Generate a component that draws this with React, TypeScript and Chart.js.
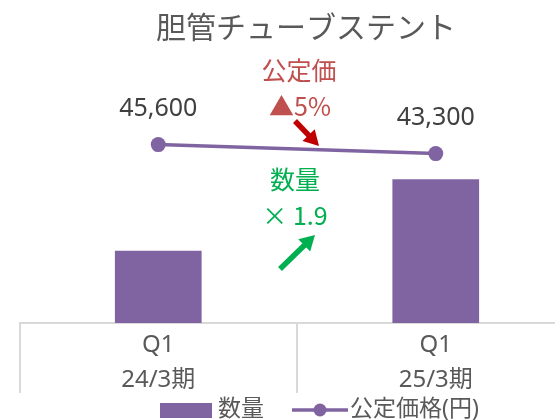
import React, { useEffect, useRef } from 'react';
import { Chart, registerables } from 'chart.js';

Chart.register(...registerables);

// ---- data ----
const TITLE = '胆管チューブステント';
const CATEGORIES = [
  ['Q1', '24/3期'],
  ['Q1', '25/3期'],
];
const QUANTITY_LABEL = '数量';
const PRICE_LABEL = '公定価格(円)';
const QUANTITY = [231, 459];
const PRICE = [45600, 43300];
const QUANTITY_AXIS_MAX = 1000;
const PRICE_AXIS_MAX = 80000;
const PRICE_NOTE = ['公定価', '▲5%'];
const QUANTITY_NOTE = ['数量', '× 1.9'];

// ---- style ----
const PURPLE = '#8064A2';
const GRID = '#d9d9d9';
const TEXT = '#595959';
const LABEL = '#404040';
const RED_TEXT = '#C0504D';
const RED_ARROW = '#C00000';
const GREEN = '#00B050';
const FAMILY = "'Noto Sans', 'Noto Sans CJK JP', sans-serif";
const CJK_FAMILY = "'Noto Sans CJK JP', 'Noto Sans', sans-serif";

function drawArrow(
  ctx: CanvasRenderingContext2D,
  x1: number, y1: number, x2: number, y2: number,
  color: string, shaft: number, headLen: number, headW: number
) {
  const ang = Math.atan2(y2 - y1, x2 - x1);
  const bx = x2 - headLen * Math.cos(ang);
  const by = y2 - headLen * Math.sin(ang);
  ctx.save();
  ctx.strokeStyle = color;
  ctx.lineWidth = shaft;
  ctx.lineCap = 'butt';
  ctx.beginPath();
  ctx.moveTo(x1, y1);
  ctx.lineTo(bx + Math.cos(ang) * 1, by + Math.sin(ang) * 1);
  ctx.stroke();
  const px = -Math.sin(ang) * headW / 2;
  const py = Math.cos(ang) * headW / 2;
  ctx.fillStyle = color;
  ctx.beginPath();
  ctx.moveTo(x2, y2);
  ctx.lineTo(bx + px, by + py);
  ctx.lineTo(bx - px, by - py);
  ctx.closePath();
  ctx.fill();
  ctx.restore();
}

const decorPlugin = {
  id: 'decor',
  beforeDatasetsDraw(chart: any) {
    // category separators below the axis (multi-level axis look)
    const ctx: CanvasRenderingContext2D = chart.ctx;
    const xs = chart.scales.x;
    const n = chart.data.labels.length;
    const step = n > 1 ? xs.getPixelForValue(1) - xs.getPixelForValue(0) : xs.width;
    ctx.save();
    ctx.strokeStyle = GRID;
    ctx.lineWidth = 2;
    ctx.beginPath();
    for (let i = 0; i <= n; i++) {
      const x = Math.round(xs.getPixelForValue(0) - step / 2 + i * step);
      ctx.moveTo(x, xs.top);
      ctx.lineTo(x, xs.top + 70);
    }
    ctx.stroke();
    ctx.restore();
  },
  afterDatasetsDraw(chart: any) {
    const ctx: CanvasRenderingContext2D = chart.ctx;
    const xs = chart.scales.x;
    const mid = (xs.getPixelForValue(0) + xs.getPixelForValue(1)) / 2;

    ctx.save();
    ctx.textBaseline = 'middle';
    ctx.textAlign = 'center';

    // title
    ctx.fillStyle = TEXT;
    ctx.font = `30px ${FAMILY}`;
    ctx.fillText(TITLE, mid + 9, 29);

    // data labels for price line
    const meta = chart.getDatasetMeta(1);
    ctx.fillStyle = LABEL;
    ctx.font = `25px ${FAMILY}`;
    meta.data.forEach((pt: any, i: number) => {
      const v = chart.data.datasets[1].data[i] as number;
      ctx.fillText(v.toLocaleString('en-US'), pt.x, pt.y - 36);
    });

    // annotations
    ctx.font = `25px ${FAMILY}`;
    ctx.fillStyle = RED_TEXT;
    ctx.fillText(PRICE_NOTE[0], mid + 2, 73);
    ctx.font = `25px ${CJK_FAMILY}`;
    ctx.fillText(PRICE_NOTE[1], mid + 3, 106);
    drawArrow(ctx, mid - 2, 121, mid + 22, 146, RED_ARROW, 5.5, 15, 17);

    ctx.fillStyle = GREEN;
    ctx.font = `25px ${FAMILY}`;
    ctx.fillText(QUANTITY_NOTE[0], mid - 2, 182);
    ctx.font = `25px ${CJK_FAMILY}`;
    ctx.fillText(QUANTITY_NOTE[1], mid - 2, 215);
    drawArrow(ctx, mid - 17, 269, mid + 18, 235, GREEN, 5.5, 15, 17);

    // legend
    const ds0 = chart.data.datasets[0];
    const ds1 = chart.data.datasets[1];
    ctx.textAlign = 'left';
    ctx.font = `23px ${FAMILY}`;
    ctx.fillStyle = ds0.backgroundColor;
    ctx.fillRect(160, 403, 52, 15);
    ctx.fillStyle = TEXT;
    ctx.fillText(ds0.label, 218, 409);

    ctx.strokeStyle = ds1.borderColor;
    ctx.lineWidth = 3.5;
    ctx.beginPath();
    ctx.moveTo(292, 410);
    ctx.lineTo(348, 410);
    ctx.stroke();
    ctx.fillStyle = ds1.borderColor;
    ctx.beginPath();
    ctx.arc(320, 410, 6.5, 0, Math.PI * 2);
    ctx.fill();
    ctx.fillStyle = TEXT;
    ctx.fillText(ds1.label, 350, 409);

    ctx.restore();
  },
};

export default function App() {
  const ref = useRef<HTMLCanvasElement | null>(null);

  useEffect(() => {
    if (!ref.current) return;
    const chart = new Chart(ref.current, {
      type: 'bar',
      data: {
        labels: CATEGORIES,
        datasets: [
          {
            type: 'bar',
            label: QUANTITY_LABEL,
            data: QUANTITY,
            backgroundColor: PURPLE,
            borderWidth: 0,
            yAxisID: 'yQ',
            barPercentage: 0.3125,
            categoryPercentage: 1,
            order: 2,
          },
          {
            type: 'line',
            label: PRICE_LABEL,
            data: PRICE,
            borderColor: PURPLE,
            backgroundColor: PURPLE,
            borderWidth: 3.5,
            pointRadius: 7.5,
            pointBackgroundColor: PURPLE,
            pointBorderWidth: 0,
            yAxisID: 'yP',
            order: 1,
          },
        ] as any,
      },
      options: {
        responsive: false,
        maintainAspectRatio: false,
        devicePixelRatio: 1,
        animation: false,
        layout: { padding: { left: 19.5, right: 25.5, top: 10, bottom: 17 } },
        plugins: {
          legend: { display: false },
          title: { display: false },
          tooltip: { enabled: false },
        },
        scales: {
          x: {
            type: 'category',
            offset: true,
            grid: {
              offset: true,
              display: false,
              drawOnChartArea: false,
              drawTicks: false,
            },
            border: { display: true, color: GRID, width: 2 },
            ticks: {
              padding: 5,
              color: TEXT,
              maxRotation: 0,
              autoSkip: false,
              font: { family: FAMILY, size: 24, lineHeight: 1.4583 },
            },
          },
          yQ: { type: 'linear', position: 'left', display: false, min: 0, max: QUANTITY_AXIS_MAX },
          yP: { type: 'linear', position: 'right', display: false, min: 0, max: PRICE_AXIS_MAX },
        },
      } as any,
      plugins: [decorPlugin],
    });
    return () => chart.destroy();
  }, []);

  return (
    <div
      style={{
        position: 'fixed',
        left: 0,
        top: 0,
        width: 555,
        height: 420,
        overflow: 'hidden',
        background: '#ffffff',
      }}
    >
      <canvas ref={ref} width={600} height={420} style={{ display: 'block', width: 600, height: 420 }} />
    </div>
  );
}
